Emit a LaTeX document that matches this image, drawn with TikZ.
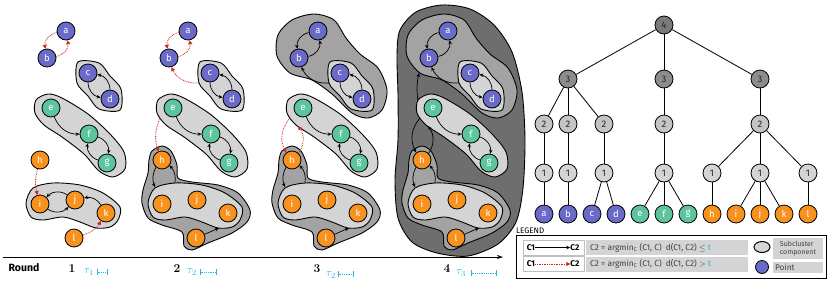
\documentclass[tikz,border=0pt]{standalone}
\usepackage{fontspec}
\setsansfont{Fira Sans}
\usepackage{tikz}
\usetikzlibrary{arrows.meta,calc,shapes.geometric}
\usepackage{xcolor}
\definecolor{ptblue}{HTML}{6A6AC8}
\definecolor{ptgreen}{HTML}{5CC59E}
\definecolor{ptorange}{HTML}{F7921E}
\definecolor{lgray}{HTML}{D4D4D4}
\definecolor{mgray}{HTML}{A3A3A3}
\definecolor{dgray}{HTML}{6E6E6E}
\definecolor{tgray}{HTML}{C4C4C4}
\definecolor{redarr}{HTML}{C8281E}
\definecolor{taucol}{HTML}{22B5E6}
\tikzset{
  >={Stealth[length=4pt,width=3.5pt]},
  pt/.style={circle,draw,line width=0.8pt,minimum size=18pt,inner sep=0pt,
    text=white,font=\sffamily\fontsize{9.5}{9.5}\selectfont},
  tn/.style={pt,text=black!85},
  blob/.style={draw,line width=0.9pt},
  link/.style={draw,->,line width=0.7pt},
  far/.style={draw,line width=0.8pt,redarr,dash pattern=on 0.8pt off 0.9pt,
    -{Triangle[length=4pt,width=4pt]}},
  tline/.style={line width=0.8pt},
  tau/.style={taucol,font=\fontsize{11}{11}\selectfont},
  span/.style={taucol,line width=0.8pt,dash pattern=on 0.8pt off 1pt,
    {Bar[width=6pt]}-{Bar[width=6pt]}},
  rnum/.style={font=\fontsize{12}{12}\selectfont\bfseries},
  wbox/.style={draw=black!25,fill=white,minimum width=61pt,minimum height=15pt,inner sep=0pt},
  gbox/.style={fill=lgray,minimum width=162pt,minimum height=15pt,inner sep=0pt},
  ltxt/.style={font=\sffamily\fontsize{8.3}{9}\selectfont,inner sep=0pt},
  ckey/.style={inner sep=0pt,font=\sffamily\bfseries\fontsize{8.3}{9}\selectfont},
}

% points of one round, local coordinates
\newcommand{\pointset}[1]{%
  \node[pt,fill=ptblue] (a#1) at (66,31) {a};
  \node[pt,fill=ptblue] (b#1) at (47,58) {b};
  \node[pt,fill=ptblue] (c#1) at (88,73) {c};
  \node[pt,fill=ptblue] (d#1) at (110,99) {d};
  \node[pt,fill=ptgreen] (e#1) at (51,108) {e};
  \node[pt,fill=ptgreen] (f#1) at (89,134) {f};
  \node[pt,fill=ptgreen] (g#1) at (107,163) {g};
  \node[pt,fill=ptorange] (h#1) at (40,160) {h};
  \node[pt,fill=ptorange] (i#1) at (40,204) {i};
  \node[pt,fill=ptorange] (j#1) at (75,200) {j};
  \node[pt,fill=ptorange] (k#1) at (106,213) {k};
  \node[pt,fill=ptorange] (l#1) at (74,238) {l};
  \coordinate (cdL#1) at (77,83);
  \coordinate (efgL#1) at (38,118);
  \coordinate (efgB#1) at (46,126);
  \coordinate (efgT#1) at (36,101);
  \coordinate (abT#1) at (37,73);
  \coordinate (ijkL#1) at (33,187);
  \coordinate (ijkR#1) at (53,183);
  \coordinate (ijkB#1) at (97,228);
}
\newcommand{\innerlinks}[1]{%
  \path
  (c#1) edge[link,bend right=40] (d#1)
  (d#1) edge[link,bend right=40] (c#1)
  (e#1) edge[link,bend right=35] (f#1)
  (f#1) edge[link,bend left=40] (g#1)
  (g#1) edge[link,bend left=40] (f#1);
}
\newcommand{\blobcd}{\draw[blob,fill=lgray] plot[smooth cycle] coordinates
  {(78,62) (99,63) (110,76) (121,89) (120,110) (99,109) (88,96) (77,83)};}
\newcommand{\blobefg}{\draw[blob,fill=lgray] plot[smooth cycle] coordinates
  {(36,100) (48,94) (62,98) (88,114) (110,134) (124,152) (125,169) (113,177)
   (99,171) (84,154) (62,137) (44,125) (35,113)};}
\newcommand{\blobijk}{\draw[blob,fill=lgray] plot[smooth cycle] coordinates
  {(26,203) (33,188) (53,183) (80,185) (103,193) (120,207) (118,220) (110,227)
   (96,228) (80,222) (63,217) (43,220) (31,217)};}
\newcommand{\blobhl}{\draw[blob,fill=mgray] plot[smooth cycle] coordinates
  {(30,151) (40,146) (49,151) (55,165) (56,178) (70,182) (96,185) (116,193)
   (128,210) (125,222) (110,233) (86,243) (70,250) (62,246) (60,232) (40,225)
   (26,218) (20,203) (21,190) (26,173) (27,160)};}
\newcommand{\blobabcd}{\draw[blob,fill=mgray] plot[smooth cycle] coordinates
  {(26,35) (40,20) (62,14) (82,20) (94,38) (108,54) (126,68) (135,90) (130,110)
   (116,118) (100,113) (80,94) (60,80) (38,73) (25,56)};}
\newcommand{\blobbig}{\draw[blob,fill=dgray] plot[smooth cycle] coordinates
  {(18,30) (34,12) (60,5) (88,9) (112,25) (130,52) (140,92) (143,140) (141,188)
   (134,222) (116,244) (86,256) (55,253) (30,242) (16,218) (13,180) (16,140)
   (16,95) (15,55)};}

\begin{document}
\begin{tikzpicture}[x=1pt,y=-1pt]
\useasboundingbox (0,0) rectangle (831,285);

% round 1
\blobcd \blobefg \blobijk
\pointset{1}
\innerlinks{1}
\path
(a1) edge[far,bend right=45] (b1)
(b1) edge[far,bend right=45] (a1)
(h1) edge[far,bend right=15] (i1)
(j1) edge[link,bend right=40] (i1)
(i1) edge[link,bend right=40] (j1)
(k1) edge[link,bend right=35] (j1)
(l1) edge[far,bend right=20] (k1);

% round 2
\begin{scope}[shift={(122,0)}]
\blobcd \blobefg \blobhl \blobijk
\pointset{2}
\innerlinks{2}
\path
(a2) edge[far,bend right=45] (b2)
(b2) edge[far,bend right=45] (a2)
(cdL2) edge[far,bend left=35] (b2)
(efgL2) edge[far,bend right=20] (h2)
(h2) edge[link,bend right=25] (ijkL2)
(ijkR2) edge[link,bend right=25] (h2)
(l2) edge[link] (ijkB2);
\end{scope}

% round 3
\begin{scope}[shift={(252,0)}]
\blobabcd \blobcd \blobefg \blobhl \blobijk
\pointset{3}
\innerlinks{3}
\path
(a3) edge[link,bend right=45] (b3)
(b3) edge[link,bend right=45] (a3)
(cdL3) edge[link,bend left=35] (b3)
(efgL3) edge[far,bend right=35] (h3)
(h3) edge[far,bend right=35] (efgB3)
(h3) edge[link,bend right=25] (ijkL3)
(ijkR3) edge[link,bend right=25] (h3)
(l3) edge[link] (ijkB3);
\end{scope}

% round 4
\begin{scope}[shift={(382,0)}]
\blobbig \blobabcd \blobcd \blobefg \blobhl \blobijk
\pointset{4}
\innerlinks{4}
\path
(a4) edge[link,bend right=45] (b4)
(b4) edge[link,bend right=45] (a4)
(cdL4) edge[link,bend left=35] (b4)
(efgT4) edge[link,bend left=10] (abT4)
(efgL4) edge[link,bend right=35] (h4)
(h4) edge[link,bend right=35] (efgB4)
(h4) edge[link,bend right=25] (ijkL4)
(ijkR4) edge[link,bend right=25] (h4)
(l4) edge[link] (ijkB4);
\end{scope}

% time axis
\coordinate (ax0) at (3,257);
\coordinate (ax1) at (503,257);
\draw[line width=0.8pt,-{Stealth[length=6pt,width=4pt]}] (ax0) -- (ax1);
\node[font=\sffamily\bfseries\fontsize{10.5}{10.5}\selectfont] (round) at (24,268) {Round};
\node[rnum] (n1) at (72,269) {1};
\node[tau] (tau1) at (89,272) {$\tau_1$};
\coordinate (s1a) at (97,272); \coordinate (s1b) at (108,272);
\draw[span] (s1a) -- (s1b);
\node[rnum] (n2) at (177,269) {2};
\node[tau] (tau2) at (192,272) {$\tau_2$};
\coordinate (s2a) at (200,272); \coordinate (s2b) at (217,272);
\draw[span] (s2a) -- (s2b);
\node[rnum] (n3) at (317,269) {3};
\node[tau] (tau3) at (331,275) {$\tau_2$};
\coordinate (s3a) at (338,274); \coordinate (s3b) at (354,274);
\draw[span] (s3a) -- (s3b);
\node[rnum] (n4) at (447,269) {4};
\node[tau] (tau4) at (461,273) {$\tau_3$};
\coordinate (s4a) at (471,273); \coordinate (s4b) at (497,273);
\draw[span] (s4a) -- (s4b);

% hierarchy
\node[tn,fill=black!52] (r4) at (664,25) {4};
\node[tn,fill=black!45] (u3a) at (568,79) {3};
\node[tn,fill=black!45] (u3b) at (664,79) {3};
\node[tn,fill=black!45] (u3c) at (760,79) {3};
\node[tn,fill=tgray] (u2a) at (544,124) {2};
\node[tn,fill=tgray] (u2b) at (568,124) {2};
\node[tn,fill=tgray] (u2c) at (604,124) {2};
\node[tn,fill=tgray] (u2d) at (664,124) {2};
\node[tn,fill=tgray] (u2e) at (760,124) {2};
\node[tn,fill=lgray] (u1a) at (544,173) {1};
\node[tn,fill=lgray] (u1b) at (568,173) {1};
\node[tn,fill=lgray] (u1c) at (604,173) {1};
\node[tn,fill=lgray] (u1d) at (664,173) {1};
\node[tn,fill=lgray] (u1e) at (712,173) {1};
\node[tn,fill=lgray] (u1f) at (760,173) {1};
\node[tn,fill=lgray] (u1g) at (808,173) {1};
\foreach \n/\col [count=\k from 0] in {a/ptblue,b/ptblue,c/ptblue,d/ptblue,
  e/ptgreen,f/ptgreen,g/ptgreen,h/ptorange,i/ptorange,j/ptorange,k/ptorange,l/ptorange}
  \node[pt,fill=\col] (t\n) at ({544+24*\k},214) {\n};
\foreach \u/\v in {r4/u3a,r4/u3b,r4/u3c,u3a/u2a,u3a/u2b,u3a/u2c,u3b/u2d,u3c/u2e,
  u2a/u1a,u2b/u1b,u2c/u1c,u2d/u1d,u2e/u1e,u2e/u1f,u2e/u1g,
  u1a/ta,u1b/tb,u1c/tc,u1c/td,u1d/te,u1d/tf,u1d/tg,u1e/th,u1f/ti,u1f/tj,u1f/tk,u1g/tl}
  \draw[tline] (\u) -- (\v);

% legend
\node[font=\sffamily\fontsize{8}{8}\selectfont,anchor=west,inner sep=0pt] (legT) at (516,231) {LEGEND};
\node[draw,line width=1pt,minimum width=310pt,minimum height=43pt,inner sep=0pt] (legB) at (671,257) {};
\node[wbox] (w1) at (553.5,247.5) {};
\node[wbox] (w2) at (553.5,264) {};
\node[gbox] (g1) at (667,247.5) {};
\node[gbox] (g2) at (667,264) {};
\node[ckey] (ca1) at (531,247.5) {C1};
\node[ckey] (cb1) at (575,247.5) {C2};
\node[ckey] (ca2) at (531,264) {C1};
\node[ckey] (cb2) at (575,264) {C2};
\draw[link] (ca1) -- (cb1);
\draw[far] (ca2) -- (cb2);
\node[ltxt,anchor=west,text=black!75] (def1) at (590,247.5)
  {C2 = argmin\textsubscript{C} (C1, C)\enspace d(C1, C2) $\le$ \textcolor{taucol}{t}};
\node[ltxt,anchor=west,text=black!75] (def2) at (590,264)
  {C2 = argmin\textsubscript{C} (C1, C)\enspace d(C1, C2) $>$ \textcolor{taucol}{t}};
\node[draw,ellipse,fill=lgray,line width=1pt,minimum width=16pt,minimum height=11pt,inner sep=0pt] (legS) at (762,247) {};
\node[circle,draw,fill=ptblue,line width=0.8pt,minimum size=13pt,inner sep=0pt] (legP) at (762,267) {};
\node[fill=lgray,minimum width=50pt,minimum height=21pt,inner sep=1.5pt,align=left,
  font=\sffamily\fontsize{7}{8}\selectfont,text=black!75] (legSt) at (798,248.5) {Subcluster\\component};
\node[fill=lgray,minimum width=50pt,minimum height=11pt,inner sep=0pt,text width=46pt,align=left,
  font=\sffamily\fontsize{8.3}{9}\selectfont,text=black!75] (legPt) at (798,267.5) {Point};
\end{tikzpicture}
\end{document}
